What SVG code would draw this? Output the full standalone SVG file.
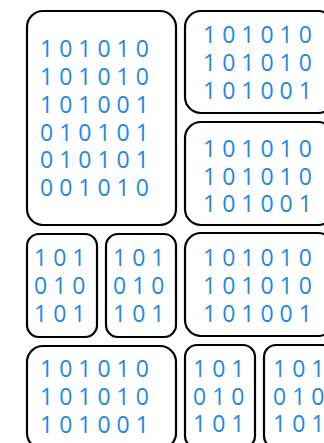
<svg xmlns="http://www.w3.org/2000/svg" width="324" height="443" viewBox="0 0 324 443">
<style>
.b{fill:#fff;stroke:#000;stroke-width:2.2}
.t{font-family:"Open Sans","Noto Sans",sans-serif;font-size:23px;fill:#1e88e5}
</style>
<rect width="324" height="443" fill="#fff"/>
<g id="n1"><rect class="b" x="27" y="11" width="149" height="214" rx="16"/>
<text class="t"><tspan x="40" y="57">1 0 1 0 1 0</tspan><tspan x="40" y="85">1 0 1 0 1 0</tspan><tspan x="40" y="113">1 0 1 0 0 1</tspan><tspan x="40" y="141">0 1 0 1 0 1</tspan><tspan x="40" y="168">0 1 0 1 0 1</tspan><tspan x="40" y="196">0 0 1 0 1 0</tspan></text></g>
<g id="n2"><rect class="b" x="185" y="11" width="149" height="102" rx="16"/>
<text class="t"><tspan x="203" y="43">1 0 1 0 1 0</tspan><tspan x="203" y="71">1 0 1 0 1 0</tspan><tspan x="203" y="99">1 0 1 0 0 1</tspan></text></g>
<g id="n3"><rect class="b" x="185" y="122" width="149" height="103" rx="16"/>
<text class="t"><tspan x="203" y="157">1 0 1 0 1 0</tspan><tspan x="203" y="185">1 0 1 0 1 0</tspan><tspan x="203" y="212">1 0 1 0 0 1</tspan></text></g>
<g id="n4"><rect class="b" x="27" y="234" width="70" height="103" rx="12"/>
<text class="t"><tspan x="34" y="266">1 0 1</tspan><tspan x="34" y="294">0 1 0</tspan><tspan x="34" y="322">1 0 1</tspan></text></g>
<g id="n5"><rect class="b" x="106" y="234" width="70" height="103" rx="12"/>
<text class="t"><tspan x="113" y="266">1 0 1</tspan><tspan x="113" y="294">0 1 0</tspan><tspan x="113" y="322">1 0 1</tspan></text></g>
<g id="n6"><rect class="b" x="185" y="233" width="149" height="103" rx="16"/>
<text class="t"><tspan x="203" y="266">1 0 1 0 1 0</tspan><tspan x="203" y="294">1 0 1 0 1 0</tspan><tspan x="203" y="322">1 0 1 0 0 1</tspan></text></g>
<g id="n7"><rect class="b" x="27" y="346" width="149" height="103" rx="16"/>
<text class="t"><tspan x="40" y="377">1 0 1 0 1 0</tspan><tspan x="40" y="405">1 0 1 0 1 0</tspan><tspan x="40" y="433">1 0 1 0 0 1</tspan></text></g>
<g id="n8"><rect class="b" x="185" y="345" width="70" height="103" rx="12"/>
<text class="t"><tspan x="193" y="377">1 0 1</tspan><tspan x="193" y="405">0 1 0</tspan><tspan x="193" y="432">1 0 1</tspan></text></g>
<g id="n9"><rect class="b" x="264" y="345" width="70" height="103" rx="12"/>
<text class="t"><tspan x="273" y="377">1 0 1</tspan><tspan x="273" y="405">0 1 0</tspan><tspan x="273" y="432">1 0 1</tspan></text></g>
<g id="connectors"/>
</svg>
